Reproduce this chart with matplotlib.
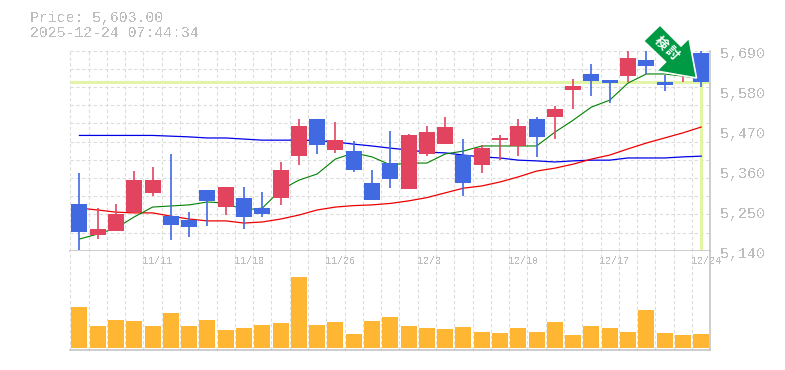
# -*- coding: utf-8 -*-

import matplotlib
matplotlib.use('Agg')
import matplotlib.pyplot as plt
from matplotlib.patches import Polygon
from matplotlib.transforms import ScaledTranslation, blended_transform_factory
import numpy as np

plt.rcParams['font.family'] = ['Liberation Mono', 'DejaVu Sans Mono']
plt.rcParams['text.antialiased'] = False

# chart values
price_text = 'Price: 5,603.00'
time_text = '2025-12-24 07:44:34'
last_price = 5603

opens = [5268, 5183, 5194, 5246, 5299, 5235, 5224, 5307, 5260, 5285, 5257, 5285,
         5400, 5502, 5417, 5414, 5326, 5381, 5310, 5406, 5433, 5403, 5376, 5444,
         5428, 5502, 5508, 5582, 5626, 5609, 5620, 5664, 5604, 5623, 5684]
highs = [5354, 5257, 5268, 5359, 5370, 5406, 5246, 5307, 5315, 5315, 5301, 5384,
         5502, 5502, 5494, 5442, 5362, 5469, 5461, 5483, 5508, 5447, 5431, 5458,
         5502, 5508, 5538, 5612, 5653, 5609, 5690, 5690, 5623, 5637, 5690]
lows = [5142, 5172, 5194, 5246, 5290, 5169, 5178, 5208, 5238, 5200, 5233, 5266,
        5376, 5406, 5409, 5356, 5279, 5312, 5310, 5400, 5433, 5290, 5354, 5389,
        5400, 5398, 5447, 5530, 5565, 5546, 5604, 5626, 5579, 5604, 5590]
closes = [5191, 5200, 5241, 5334, 5334, 5211, 5205, 5277, 5315, 5233, 5241, 5362,
          5483, 5431, 5444, 5362, 5279, 5337, 5458, 5466, 5480, 5326, 5422, 5450,
          5483, 5453, 5530, 5593, 5607, 5601, 5670, 5648, 5596, 5637, 5603]

ma_short = [5172, 5186, 5202, 5233, 5260, 5263, 5266, 5274, 5271, 5252, 5257, 5307,
            5334, 5351, 5392, 5409, 5398, 5376, 5381, 5381, 5406, 5414, 5428, 5428,
            5428, 5428, 5466, 5499, 5535, 5554, 5601, 5626, 5626, 5620, 5612]
ma_mid = [5257, 5252, 5246, 5244, 5244, 5235, 5227, 5222, 5222, 5216, 5219, 5227,
          5238, 5252, 5260, 5264, 5266, 5270, 5277, 5286, 5299, 5312, 5318, 5329,
          5343, 5359, 5367, 5378, 5392, 5403, 5420, 5436, 5450, 5464, 5480]
ma_long = [5457, 5457, 5457, 5457, 5457, 5455, 5453, 5450, 5450, 5447, 5444, 5444,
           5444, 5443, 5439, 5433, 5428, 5422, 5417, 5411, 5409, 5403, 5398, 5395,
           5389, 5387, 5384, 5387, 5389, 5389, 5395, 5395, 5395, 5398, 5400]

volumes = [41, 22, 28, 27, 22, 35, 22, 28, 18, 20, 23, 25, 71, 23, 26, 14, 27, 31,
           22, 20, 19, 21, 16, 15, 20, 16, 26, 13, 22, 20, 16, 38, 15, 13, 14]

price_ticks = [5140, 5250, 5360, 5470, 5580, 5690]
price_labels = ['5,140', '5,250', '5,360', '5,470', '5,580', '5,690']
date_idx = [4, 9, 14, 19, 24, 29, 34]
date_labels = ['11/11', '11/18', '11/26', '12/3', '12/10', '12/17', '12/24']

# colours
UP = '#E2445F'
DOWN = '#4169E1'
GRID = '#DCDCDC'
BORDER = '#C0C0C0'
TEXT = '#BDBDBD'
LAST = '#E2F5A4'
VOL = '#FFB733'
ARROW = '#009944'

W, H = 785, 370


def fx(px):
    return px / W


def fy(py):
    return 1 - py / H


fig = plt.figure(figsize=(W / 100, H / 100), dpi=100, facecolor='white')
ax = fig.add_axes([fx(70.3), fy(250.7), 640 / W, 200 / H])
vax = fig.add_axes([fx(70.3), fy(350), 640 / W, 99.3 / H])

n = len(opens)
x = np.arange(n)
dash = (0, (3, 2.2))

for a in (ax, vax):
    a.set_xlim(-0.5, n - 0.5)
    for i in range(n):
        a.axvline(i - 0.5, color=GRID, lw=0.8, ls=dash, zorder=1, clip_on=False)
    a.set_xticks([])
    for s in a.spines.values():
        s.set_visible(False)
    a.spines['right'].set_visible(True)
    a.spines['right'].set_color(BORDER)
    a.spines['right'].set_linewidth(1.1)

# price panel
ax.set_ylim(5140, 5690)
for v in range(5140, 5691, 50):
    ax.axhline(v, color=GRID, lw=0.8, ls=dash, zorder=1)
ax.spines['bottom'].set_visible(True)
ax.spines['bottom'].set_color(BORDER)
ax.spines['bottom'].set_linewidth(1.1)

ax.axhline(last_price, color=LAST, lw=2.2, zorder=2, solid_capstyle='butt')
ax.plot([n - 1, n - 1], [5143, last_price], color=LAST, lw=2.2, zorder=2, solid_capstyle='butt')

# moving averages sit under the candles
ax.plot(x, ma_long, color='#0000E6', lw=0.9, zorder=3)
ax.plot(x, ma_mid, color='#EE0000', lw=0.9, zorder=3)
ax.plot(x, ma_short, color='#008000', lw=0.8, zorder=3)

for i in range(n):
    c = UP if closes[i] >= opens[i] else DOWN
    ax.plot([i, i], [lows[i], highs[i]], color=c, lw=1.2, zorder=4, solid_capstyle='butt')
    ax.bar(i, abs(closes[i] - opens[i]), bottom=min(opens[i], closes[i]), width=0.875,
           color=c, zorder=4)

ax.yaxis.tick_right()
ax.set_yticks(price_ticks)
ax.set_yticklabels(price_labels, fontsize=10.8, color=TEXT)
ax.tick_params(axis='y', length=0, pad=7)
for lab in ax.get_yticklabels():
    lab.set_transform(lab.get_transform() + ScaledTranslation(0, -0.015, fig.dpi_scale_trans))

# volume panel
vax.set_ylim(-2.3, 97)
vax.bar(x, volumes, width=0.875, color=VOL, zorder=3)
vax.set_yticks([])
vax.spines['top'].set_visible(False)
vax.spines['bottom'].set_visible(True)
vax.spines['bottom'].set_color(BORDER)
vax.spines['bottom'].set_linewidth(1.1)

trans = blended_transform_factory(vax.transData, vax.transAxes)
for i, lab in zip(date_idx, date_labels):
    vax.text(i - 0.55, 0.893, lab, transform=trans, fontsize=7.2, color=TEXT,
             ha='left', va='center', zorder=6, clip_on=False)

# header text
fig.text(fx(30), fy(18), price_text, fontsize=10.75, color=TEXT, ha='left', va='center')
fig.text(fx(30), fy(33), time_text, fontsize=10.75, color=TEXT, ha='left', va='center')

# signal arrow
arrow_px = [(660, 25), (681, 46), (689, 38), (696.5, 78), (656.5, 71), (665.5, 62), (643.5, 41)]
fig.add_artist(Polygon([(fx(a), fy(b)) for a, b in arrow_px], closed=True, transform=fig.transFigure,
                       facecolor=ARROW, edgecolor='white', lw=1.2, zorder=10))
for ch, cx, cy in [('検', 660.7, 42.7), ('討', 671.7, 53.3)]:
    fig.text(fx(cx), fy(cy), ch, fontsize=9.5, color='white', fontweight='bold', rotation=-45,
             ha='center', va='center', rotation_mode='anchor', zorder=11,
             family=['Noto Sans CJK JP', 'DejaVu Sans'], antialiased=True)

fig.savefig('out.png', dpi=100)
